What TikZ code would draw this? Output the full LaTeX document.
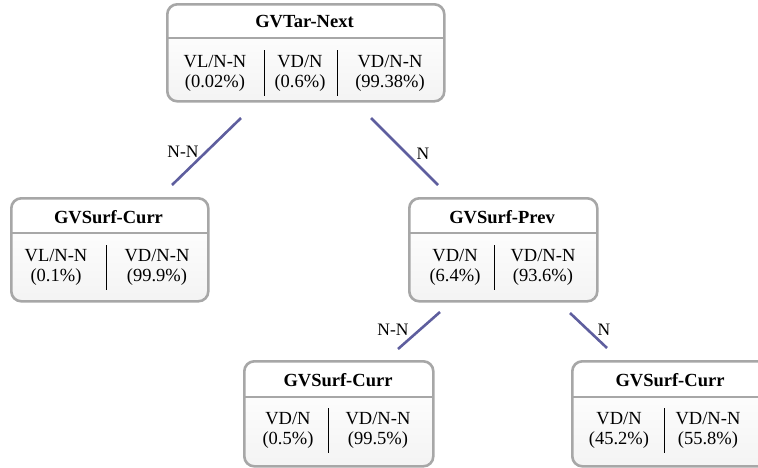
\documentclass[tikz,border=0pt]{standalone}
\usepackage{fontspec}
\setmainfont{Liberation Serif}
\begin{document}
\begin{tikzpicture}[x=1pt,y=-1pt,
  boxborder/.style={draw=gray!85!black!60, line width=2.6pt, rounded corners=10pt},
  boxbg/.style={fill=white, rounded corners=10pt},
  sepline/.style={draw=gray!85!black!60, line width=1.2pt},
  divider/.style={draw=black, line width=0.8pt},
  title/.style={font=\fontsize{18.5}{20}\selectfont\bfseries, inner sep=0pt},
  cell/.style={font=\fontsize{18.5}{20}\selectfont, align=center, inner sep=0pt},
  edge/.style={draw=edgecol, line width=2.6pt},
  elabel/.style={font=\fontsize{17.5}{20}\selectfont, inner sep=0pt}
]
\definecolor{edgecol}{HTML}{5E5E9E}
\useasboundingbox (0,0) rectangle (758,467);

% generic box macro: name, x1, y1, x2, y2, sepy
\newcommand{\gvbox}[6]{%
  \path[boxbg] (#2,#3) rectangle (#4,#5);
  \begin{scope}
    \clip[rounded corners=10pt] (#2,#3) rectangle (#4,#5);
    \shade[top color=gray!2, bottom color=gray!9] (#2,#6) rectangle (#4,#5);
  \end{scope}
  \draw[sepline] (#2,#6) -- (#4,#6);
  \node[boxborder, anchor=north west, minimum width=#4-#2, minimum height=#5-#3, inner sep=0pt] (#1) at (#2,#3) {};
}

% top box
\gvbox{top}{166}{3}{443}{100}{38}
\node[title] (topt) at (304.5,22) {GVTar-Next};
\node[cell] (top1) at (215,73) {VL/N-N\\(0.02\%)};
\node[cell] (top2) at (300,73) {VD/N\\(0.6\%)};
\node[cell] (top3) at (390,73) {VD/N-N\\(99.38\%)};
\draw[divider] (264,50) -- (264,96);
\draw[divider] (337,50) -- (337,96);

% left box
\gvbox{left}{10}{197}{207}{300}{233}
\node[title] (leftt) at (108.5,217) {GVSurf-Curr};
\node[cell] (left1) at (56,267) {VL/N-N\\(0.1\%)};
\node[cell] (left2) at (157,267) {VD/N-N\\(99.9\%)};
\draw[divider] (106,245) -- (106,290);

% middle box
\gvbox{mid}{408}{197}{596}{300}{233}
\node[title] (midt) at (502,217) {GVSurf-Prev};
\node[cell] (mid1) at (455,267) {VD/N\\(6.4\%)};
\node[cell] (mid2) at (543,267) {VD/N-N\\(93.6\%)};
\draw[divider] (494,245) -- (494,290);

% bottom-left box
\gvbox{bl}{243}{360}{432}{465}{397}
\node[title] (blt) at (338,380) {GVSurf-Curr};
\node[cell] (bl1) at (288,430) {VD/N\\(0.5\%)};
\node[cell] (bl2) at (378,430) {VD/N-N\\(99.5\%)};
\draw[divider] (328,408) -- (328,453);

% bottom-right box
\gvbox{br}{571}{360}{770}{465}{397}
\node[title] (brt) at (670,380) {GVSurf-Curr};
\node[cell] (br1) at (619,430) {VD/N\\(45.2\%)};
\node[cell] (br2) at (708,430) {VD/N-N\\(55.8\%)};
\draw[divider] (664,408) -- (664,453);

% connectors
\coordinate (e1a) at (241,118); \coordinate (e1b) at (172,185);
\coordinate (e2a) at (371,118); \coordinate (e2b) at (438,185);
\coordinate (e3a) at (440,312); \coordinate (e3b) at (398,349);
\coordinate (e4a) at (570,313); \coordinate (e4b) at (607,348);
\draw[edge] (e1a) -- (e1b);
\draw[edge] (e2a) -- (e2b);
\draw[edge] (e3a) -- (e3b);
\draw[edge] (e4a) -- (e4b);
\node[elabel] (l1) at (183,152) {N-N};
\node[elabel] (l2) at (423,154) {N};
\node[elabel] (l3) at (393,330) {N-N};
\node[elabel] (l4) at (604,330) {N};
\end{tikzpicture}
\end{document}
